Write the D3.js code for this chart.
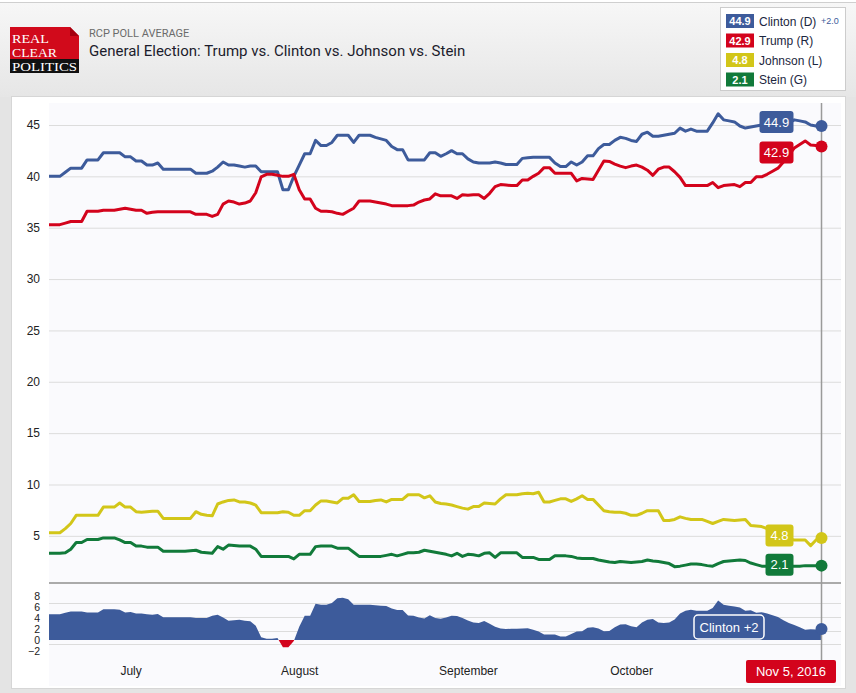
<!DOCTYPE html>
<html>
<head>
<meta charset="utf-8">
<script src="https://cdn.jsdelivr.net/npm/d3@7"></script>
<style>
  html, body { margin: 0; padding: 0; background: #e5e5e5; }
  svg { display: block; }
</style>
</head>
<body>
<script>
// ---------- DATA ----------
// one value per day, from 16 Jun 2016 to 5 Nov 2016
const startDate = new Date(2016, 5, 16);
const clinton = [
  40.0,40.0,40.0,40.4,40.8,40.8,40.8,41.6,41.6,41.6,
  42.3,42.3,42.3,42.3,41.9,41.9,41.5,41.5,41.1,41.1,
  41.3,40.7,40.7,40.7,40.7,40.7,40.7,40.3,40.3,40.3,
  40.5,40.9,41.4,41.1,41.1,41.0,40.9,41.0,41.0,40.45,
  40.45,40.45,40.45,38.7,38.7,40.0,41.1,42.2,42.2,43.5,
  43.0,43.0,43.3,44.0,44.0,44.0,43.3,44.0,44.0,44.0,
  43.8,43.65,43.5,42.9,42.6,42.6,41.6,41.6,41.6,41.6,
  42.3,42.3,41.95,42.2,42.5,42.2,42.2,41.7,41.4,41.3,
  41.3,41.3,41.4,41.3,41.15,41.15,41.15,41.75,41.8,41.85,
  41.85,41.85,41.85,41.3,40.95,40.95,41.4,41.1,41.4,42.0,
  42.0,42.7,43.1,43.1,43.5,43.8,43.7,43.5,43.4,44.1,
  44.3,43.9,43.9,44.0,44.1,44.2,44.7,44.4,44.6,44.4,
  44.4,44.4,45.2,46.1,45.5,45.4,45.3,44.9,44.7,44.8,
  44.9,45.0,45.0,45.0,45.0,45.0,45.2,45.5,45.4,45.3,
  45.0,44.9,44.9];
const trump = [
  35.3,35.3,35.3,35.45,35.6,35.6,35.6,36.6,36.6,36.6,
  36.7,36.7,36.7,36.8,36.9,36.8,36.7,36.7,36.4,36.5,
  36.55,36.55,36.55,36.55,36.55,36.55,36.55,36.3,36.3,36.3,
  36.1,36.3,37.3,37.6,37.5,37.3,37.4,37.6,38.4,39.95,
  40.2,40.2,40.1,40.0,40.0,40.2,38.7,37.8,37.8,36.9,
  36.6,36.6,36.55,36.4,36.3,36.6,36.9,37.6,37.6,37.6,
  37.5,37.4,37.3,37.15,37.15,37.15,37.15,37.2,37.5,37.7,
  37.8,38.3,38.1,38.1,38.1,37.85,38.2,38.15,38.2,38.2,
  37.85,38.35,39.0,39.2,39.15,39.1,39.1,39.65,39.65,40.0,
  40.3,40.85,40.85,40.3,40.3,40.3,40.3,39.55,39.8,39.75,
  39.7,40.6,41.5,41.45,41.2,41.0,40.85,41.0,41.1,40.9,
  40.6,40.1,40.7,40.9,40.9,40.45,39.9,39.1,39.1,39.1,
  39.1,39.1,39.4,38.9,39.1,39.15,39.2,39.0,39.4,39.4,
  39.95,39.95,40.2,40.5,40.8,41.4,42.1,42.75,43.1,43.45,
  43.05,43.0,42.9];
const johnson = [
  5.3,5.3,5.3,5.7,6.2,7.0,7.0,7.0,7.0,7.0,
  7.8,7.8,7.8,8.2,7.8,7.8,7.35,7.3,7.35,7.4,
  7.4,6.7,6.7,6.7,6.7,6.7,6.7,7.35,7.1,7.0,
  6.95,8.1,8.3,8.45,8.5,8.3,8.3,8.2,8.0,7.25,
  7.25,7.25,7.25,7.35,7.3,7.0,7.0,7.45,7.45,8.0,
  8.4,8.4,8.3,8.2,8.65,8.65,9.0,8.35,8.35,8.35,
  8.45,8.5,8.3,8.55,8.55,8.55,9.0,9.0,9.0,8.7,
  8.9,8.3,8.15,8.1,8.0,7.85,7.7,7.6,7.85,7.85,
  8.2,8.15,8.1,8.6,9.0,9.0,9.0,9.1,9.15,9.1,
  9.25,8.3,8.3,8.45,8.6,8.6,8.35,8.6,8.9,8.55,
  8.55,8.0,7.45,7.35,7.3,7.3,7.2,7.0,7.0,7.2,
  7.45,7.45,7.45,6.5,6.5,6.6,6.85,6.7,6.6,6.6,
  6.6,6.4,6.2,6.4,6.6,6.55,6.5,6.55,6.6,6.0,
  5.95,5.9,5.7,5.4,5.1,4.8,4.7,4.6,4.6,4.6,
  4.05,4.6,4.8];
const stein = [
  3.3,3.3,3.3,3.35,3.7,4.35,4.35,4.65,4.65,4.65,
  4.8,4.8,4.8,4.6,4.35,4.35,4.0,4.0,3.9,3.9,
  3.9,3.5,3.5,3.5,3.5,3.5,3.55,3.6,3.4,3.35,
  3.3,3.95,3.7,4.1,4.05,4.0,4.0,4.0,3.7,3.0,
  3.0,3.0,3.0,3.0,3.0,2.75,3.2,3.2,3.2,3.95,
  4.0,4.0,4.0,3.8,3.8,3.8,3.4,3.0,3.0,3.0,
  3.0,3.0,3.1,3.2,3.05,3.2,3.35,3.35,3.4,3.6,
  3.5,3.4,3.3,3.2,3.05,3.3,3.0,3.2,3.15,3.05,
  3.3,3.35,2.9,3.35,3.35,3.35,3.35,2.9,2.9,2.9,
  2.7,2.7,2.7,3.05,3.05,3.05,3.0,2.85,2.8,2.8,
  2.8,2.65,2.55,2.45,2.4,2.5,2.45,2.4,2.45,2.5,
  2.65,2.55,2.5,2.4,2.3,2.0,2.05,2.15,2.25,2.25,
  2.2,2.1,2.05,2.3,2.5,2.55,2.6,2.65,2.6,2.35,
  2.2,2.05,2.05,2.05,2.05,2.05,2.05,2.05,2.05,2.1,
  2.1,2.1,2.1];

const seriesNames = ["Clinton (D)", "Trump (R)", "Johnson (L)", "Stein (G)"];
const seriesColors = ["#3d5b9b", "#d3031c", "#d2c619", "#117a3a"];
const finalValues = [44.9, 42.9, 4.8, 2.1];
const spreadLabel = "Clinton +2";
const spreadLegend = "+2.0";
const mainTicks = [5, 10, 15, 20, 25, 30, 35, 40, 45];
const spreadTicks = [-2, 0, 2, 4, 6, 8];
const spreadGrid = [-0.75, 1.6, 4.15, 6.7];
const monthTicks = [new Date(2016, 6, 1), new Date(2016, 7, 1), new Date(2016, 8, 1), new Date(2016, 9, 1)];
const endDateLabel = "Nov 5, 2016";

const dates = clinton.map((_, i) => d3.timeDay.offset(startDate, i));
const spread = clinton.map((c, i) => +(c - trump[i]).toFixed(2));

// ---------- LAYOUT ----------
const W = 856, H = 693;
const svg = d3.select("body").append("svg").attr("width", W).attr("height", H);
const defs = svg.append("defs");
const grad = defs.append("linearGradient").attr("id", "hdr").attr("x1", 0).attr("y1", 0).attr("x2", 0).attr("y2", 1);
grad.append("stop").attr("offset", "0%").attr("stop-color", "#f7f7f7");
grad.append("stop").attr("offset", "100%").attr("stop-color", "#e6e6e6");

svg.append("rect").attr("x", 0).attr("y", 0).attr("width", W).attr("height", H).attr("fill", "#e4e4e4");
svg.append("rect").attr("x", 0).attr("y", 0).attr("width", W).attr("height", 2).attr("fill", "#ffffff");
svg.append("rect").attr("x", 0).attr("y", 2).attr("width", W).attr("height", 95).attr("fill", "url(#hdr)");
svg.append("line").attr("x1", 0).attr("x2", W).attr("y1", 2.5).attr("y2", 2.5).attr("stroke", "#cfcfcf");

// card
svg.append("rect").attr("x", 11.5).attr("y", 96.5).attr("width", 834).attr("height", 592)
  .attr("fill", "#ffffff").attr("stroke", "#d6d6d6");
// plot background
const plotL = 49, plotR = 841, plotT = 103, plotB = 686;
svg.append("rect").attr("x", plotL).attr("y", plotT).attr("width", plotR - plotL).attr("height", plotB - plotT)
  .attr("fill", "#fafafd");

// ---------- HEADER ----------
const logo = svg.append("g");
logo.append("rect").attr("x", 10).attr("y", 27).attr("width", 69).attr("height", 46).attr("fill", "#d10a1b");
logo.append("path").attr("d", "M70,27 L79,36 L79,27 Z").attr("fill", "#f3f3f3");
logo.append("path").attr("d", "M70,27 L79,36 L70,36 Z").attr("fill", "#a5000f");
logo.append("rect").attr("x", 10).attr("y", 59).attr("width", 69).attr("height", 14).attr("fill", "#111");
const logoFont = "'Liberation Serif', 'DejaVu Serif', serif";
logo.append("text").attr("x", 12).attr("y", 43).text("REAL").attr("font-family", logoFont)
  .attr("font-size", 12.5).attr("fill", "#fff").attr("textLength", 37).attr("lengthAdjust", "spacingAndGlyphs");
logo.append("text").attr("x", 12).attr("y", 57).text("CLEAR").attr("font-family", logoFont)
  .attr("font-size", 12.5).attr("fill", "#fff").attr("textLength", 45).attr("lengthAdjust", "spacingAndGlyphs");
logo.append("text").attr("x", 12).attr("y", 71).text("POLITICS").attr("font-family", logoFont)
  .attr("font-size", 12.5).attr("fill", "#fff").attr("textLength", 65).attr("lengthAdjust", "spacingAndGlyphs");

svg.append("text").attr("x", 89).attr("y", 37).text("RCP POLL AVERAGE")
  .attr("font-family", "Roboto, sans-serif").attr("font-size", 11).attr("fill", "#6b6b6b");
svg.append("text").attr("x", 89).attr("y", 56).text("General Election: Trump vs. Clinton vs. Johnson vs. Stein")
  .attr("font-family", "Roboto, sans-serif").attr("font-size", 15).attr("fill", "#1c1c2c");

// legend
const chartFont = "'Liberation Sans', Arial, sans-serif";
const lg = svg.append("g");
lg.append("rect").attr("x", 720.5).attr("y", 7.5).attr("width", 125).attr("height", 83)
  .attr("fill", "#fff").attr("stroke", "#cccccc");
seriesNames.forEach((n, i) => {
  const cy = 21 + i * 19.5;
  lg.append("rect").attr("x", 726).attr("y", cy - 7).attr("width", 28).attr("height", 14).attr("fill", seriesColors[i]);
  lg.append("text").attr("x", 740).attr("y", cy + 4).attr("text-anchor", "middle").text(finalValues[i].toFixed(1))
    .attr("font-family", chartFont).attr("font-size", 11).attr("fill", "#fff").attr("font-weight", "bold");
  lg.append("text").attr("x", 759).attr("y", cy + 4.5).text(n)
    .attr("font-family", chartFont).attr("font-size", 12).attr("fill", "#1b2640");
});
lg.append("text").attr("x", 821).attr("y", 24).text(spreadLegend)
  .attr("font-family", chartFont).attr("font-size", 9).attr("fill", "#3d5b9b");

// ---------- SCALES ----------
const x = d3.scaleTime().domain([startDate, new Date(2016, 10, 8, 14)]).range([plotL, plotR]);
const y = d3.scaleLinear().domain([0, 45]).range([587.2, 125]);
const yS = d3.scaleLinear().domain([-2, 8]).range([651, 596]);

// main grid
svg.append("g").selectAll("line").data(mainTicks).join("line")
  .attr("x1", plotL).attr("x2", plotR).attr("y1", d => y(d) + 0.5).attr("y2", d => y(d) + 0.5)
  .attr("stroke", "#dcdcdc");
// spread grid
svg.append("g").selectAll("line").data(spreadGrid).join("line")
  .attr("x1", plotL).attr("x2", plotR).attr("y1", d => Math.round(yS(d)) + 0.5).attr("y2", d => Math.round(yS(d)) + 0.5)
  .attr("stroke", "#dcdcdc");
// separator
svg.append("line").attr("x1", plotL).attr("x2", plotR).attr("y1", 583).attr("y2", 583)
  .attr("stroke", "#aaaaaa").attr("stroke-width", 2);

// y axis main
const yAxis = d3.axisLeft(y).tickValues(mainTicks).tickSize(0).tickPadding(0);
const gy = svg.append("g").attr("transform", "translate(40,0)").call(yAxis);
gy.select(".domain").remove();
gy.selectAll("text").attr("font-family", chartFont).attr("font-size", 12).attr("fill", "#222");

const ySAxis = d3.axisLeft(yS).tickValues(spreadTicks).tickSize(0).tickPadding(0);
const gys = svg.append("g").attr("transform", "translate(40,0)").call(ySAxis);
gys.select(".domain").remove();
gys.selectAll("text").attr("font-family", chartFont).attr("font-size", 10.5).attr("fill", "#222");

// x axis
const xAxis = d3.axisBottom(x).tickValues(monthTicks).tickFormat(d3.timeFormat("%B")).tickSize(0).tickPadding(0);
const gx = svg.append("g").attr("transform", "translate(0,666)").call(xAxis);
gx.select(".domain").remove();
gx.selectAll("text").attr("font-family", chartFont).attr("font-size", 12).attr("fill", "#222");

// ---------- SPREAD AREA ----------
defs.append("clipPath").attr("id", "pos").append("rect")
  .attr("x", plotL).attr("y", 585).attr("width", plotR - plotL).attr("height", yS(0) - 585);
defs.append("clipPath").attr("id", "neg").append("rect")
  .attr("x", plotL).attr("y", yS(0)).attr("width", plotR - plotL).attr("height", 20);
const area = d3.area().x((d, i) => x(dates[i])).y0(yS(0)).y1(d => yS(d));
svg.append("path").datum(spread).attr("d", area).attr("fill", seriesColors[0]).attr("clip-path", "url(#pos)");
svg.append("path").datum(spread).attr("d", area).attr("fill", seriesColors[1]).attr("clip-path", "url(#neg)");

// ---------- LINES ----------
const allSeries = [clinton, trump, johnson, stein];
const line = d3.line().x((d, i) => x(dates[i])).y(d => y(d));
allSeries.forEach((s, k) => {
  svg.append("path").datum(s).attr("d", line).attr("fill", "none")
    .attr("stroke", seriesColors[k]).attr("stroke-width", 3).attr("stroke-linejoin", "round");
});

// vertical marker at last date
const lastDate = dates[dates.length - 1];
const xEnd = x(lastDate);
svg.append("line").attr("x1", xEnd).attr("x2", xEnd).attr("y1", plotT).attr("y2", 662)
  .attr("stroke", "#9a9a9a").attr("stroke-width", 1.5);

// end dots
allSeries.forEach((s, k) => {
  svg.append("circle").attr("cx", xEnd).attr("cy", y(s[s.length - 1])).attr("r", 6).attr("fill", seriesColors[k]);
});
svg.append("circle").attr("cx", xEnd).attr("cy", yS(spread[spread.length - 1])).attr("r", 6).attr("fill", seriesColors[0]);

// end value labels
const labelOffsets = [-4, 6, -2.5, -1];
const labelWidths = [34, 34, 28, 28];
allSeries.forEach((s, k) => {
  const cy = y(s[s.length - 1]) + labelOffsets[k];
  const right = xEnd - 28;
  svg.append("rect").attr("x", right - labelWidths[k]).attr("y", cy - 11).attr("width", labelWidths[k]).attr("height", 22)
    .attr("rx", 3).attr("fill", seriesColors[k]);
  svg.append("text").attr("x", right - labelWidths[k] / 2).attr("y", cy + 4.5).attr("text-anchor", "middle")
    .text(finalValues[k].toFixed(1)).attr("font-family", chartFont).attr("font-size", 13).attr("fill", "#fff");
});

// spread label
svg.append("rect").attr("x", 694).attr("y", 615).attr("width", 70).attr("height", 24).attr("rx", 4)
  .attr("fill", seriesColors[0]).attr("stroke", "#fff").attr("stroke-width", 1.5);
svg.append("text").attr("x", 729).attr("y", 631.5).attr("text-anchor", "middle").text(spreadLabel)
  .attr("font-family", chartFont).attr("font-size", 13).attr("fill", "#fff");

// end date box
svg.append("rect").attr("x", 746).attr("y", 660).attr("width", 90).attr("height", 23).attr("rx", 2).attr("fill", "#d3031c");
svg.append("text").attr("x", 791).attr("y", 676).attr("text-anchor", "middle").text(endDateLabel)
  .attr("font-family", chartFont).attr("font-size", 13).attr("fill", "#fff");
</script>
</body>
</html>
